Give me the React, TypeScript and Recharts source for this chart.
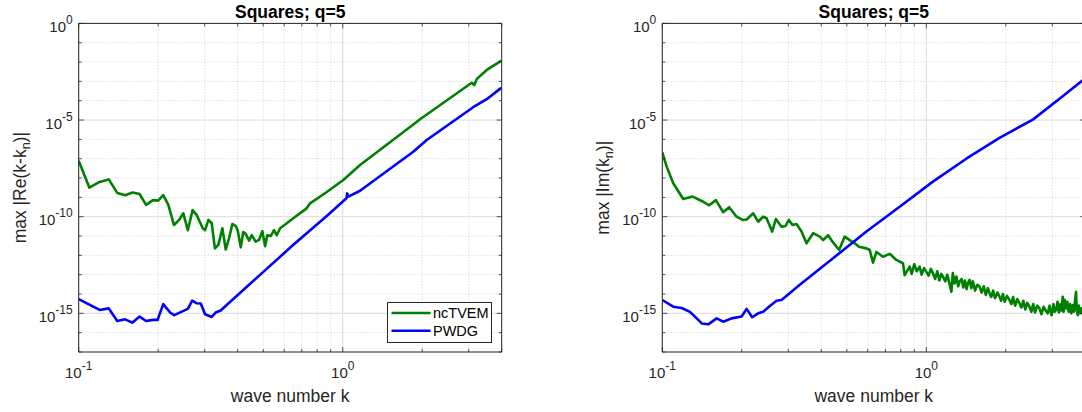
import React from "react";
import { LineChart, Line, XAxis, YAxis, CartesianGrid, ReferenceLine, Legend } from "recharts";

// values: [wave number k, max error]
const reTvem: [number, number][] = [
  [0.1, 7.9e-8], [0.1097, 3.2e-9], [0.12, 6.3e-9], [0.13, 8.5e-9], [0.14, 1.7e-9], [0.15, 1.3e-9],
  [0.16, 1.8e-9], [0.17, 1.5e-9], [0.18, 4.1e-10], [0.191, 7.2e-10], [0.2, 6.8e-10], [0.209, 1.3e-9],
  [0.2185, 4.1e-10], [0.2296, 3.7e-11], [0.24, 6.8e-11], [0.249, 1.5e-10], [0.259, 2.0e-11], [0.27, 2.2e-10],
  [0.28, 1.2e-10], [0.295, 2.5e-11], [0.301, 2.0e-11], [0.31, 6.8e-11], [0.319, 4.6e-11], [0.328, 2.3e-12],
  [0.338, 3.5e-12], [0.35, 2.5e-11], [0.3605, 2.0e-12], [0.371, 7.6e-12], [0.382, 4.2e-11], [0.393, 3.3e-11],
  [0.4, 2.0e-11], [0.411, 2.6e-12], [0.42, 1.6e-11], [0.429, 1.3e-11], [0.442, 5.8e-12], [0.452, 1.1e-11],
  [0.468, 5.1e-12], [0.482, 6.3e-12], [0.496, 1.8e-11], [0.508, 3.0e-12], [0.518, 1.1e-11], [0.534, 1.0e-11],
  [0.549, 2.0e-11], [0.562, 1.1e-11], [0.579, 2.5e-11], [0.614, 4.6e-11], [0.65, 8.3e-11], [0.73, 2.7e-10],
  [0.752, 4.9e-10], [0.87, 1.9e-9], [1.005, 7.9e-9], [1.163, 4.7e-8], [1.84, 5.5e-6], [1.963, 1.1e-5],
  [3.08, 8.5e-4], [3.15, 6.5e-4], [3.22, 1.35e-3], [3.512, 3.9e-3], [3.94, 1.05e-2], [4.0, 1.2e-2],
];

const rePwdg: [number, number][] = [
  [0.1, 5.4e-15], [0.12, 1.5e-15], [0.13, 1.8e-15], [0.14, 4.0e-16], [0.15, 4.9e-16], [0.1595, 3.3e-16],
  [0.17, 6.8e-16], [0.18, 4.0e-16], [0.191, 4.6e-16], [0.199, 4.6e-16], [0.209, 3.0e-15], [0.222, 1.1e-15],
  [0.23, 8.1e-16], [0.259, 1.7e-15], [0.269, 4.5e-15], [0.28, 3.3e-15], [0.29, 3.2e-15], [0.301, 8.9e-16],
  [0.319, 6.5e-16], [0.33, 1.1e-15], [0.345, 1.4e-15], [0.3635, 2.7e-15], [0.42, 1.6e-14], [0.485, 9.5e-14],
  [0.65, 3.5e-12], [0.87, 1.1e-10], [1.033, 8.9e-10], [1.04, 1.6e-9], [1.05, 1.1e-9], [1.163, 2.2e-9],
  [1.85, 2.3e-7], [2.08, 9.3e-7], [3.12, 4.6e-5], [3.51, 1.2e-4], [3.94, 4.1e-4], [4.0, 4.6e-4],
];

const imTvem: [number, number][] = [
  [0.1, 2.1e-7], [0.1039, 3.9e-8], [0.11, 5.4e-9], [0.12, 8.3e-10], [0.1303, 1.1e-9], [0.141, 6.5e-10],
  [0.1506, 3.9e-10], [0.1596, 7.2e-10], [0.1701, 1.7e-10], [0.1792, 3.1e-10], [0.1911, 1.0e-10], [0.2015, 6.8e-11],
  [0.2086, 7.2e-11], [0.221, 1.5e-10], [0.2307, 5.5e-11], [0.241, 1.0e-10], [0.2483, 8.3e-11], [0.2606, 1.7e-11],
  [0.2692, 7.6e-11], [0.2829, 3.0e-11], [0.2929, 3.3e-11], [0.3014, 6.8e-11], [0.3113, 3.7e-11], [0.3223, 4.2e-11],
  [0.3367, 1.7e-11], [0.3517, 4.2e-12], [0.3725, 1.4e-11], [0.395, 9.3e-12], [0.4065, 6.2e-12], [0.4246, 1.1e-11],
  [0.4411, 5.1e-12], [0.4672, 1.9e-12], [0.4909, 9.3e-12], [0.5159, 5.8e-12], [0.5356, 4.2e-12], [0.556, 2.8e-12],
  [0.5932, 2.3e-12], [0.6106, 1.9e-12], [0.6281, 4.2e-13], [0.6471, 1.5e-12], [0.6855, 8.5e-13], [0.7264, 1.2e-12],
  [0.7701, 5.8e-13], [0.8157, 3.9e-13], [0.8278, 9.5e-14], [0.8646, 2.6e-13], [0.88, 1.1e-13], [0.9, 3.5e-13],
  [0.92, 1.5e-13], [0.9432, 2.6e-13], [0.96, 1.0e-13], [0.98, 2.2e-13], [1.0, 1.4e-13], [1.02, 9e-14],
  [1.04, 2.0e-13], [1.059, 1.2e-13], [1.08, 6e-14], [1.1, 1.5e-13], [1.12, 5e-14], [1.14, 1.1e-13],
  [1.156, 7.9e-14], [1.18, 4.5e-14], [1.2, 1.0e-13], [1.22, 4e-14], [1.244, 1.3e-14], [1.26, 1.2e-13],
  [1.28, 3.5e-14], [1.3, 8e-14], [1.32, 2.5e-14], [1.336, 4.4e-14], [1.36, 6e-14], [1.38, 2.2e-14],
  [1.4, 5e-14], [1.42, 1.8e-14], [1.44, 4e-14], [1.458, 5.4e-14], [1.48, 2e-14], [1.5, 4.5e-14],
  [1.53, 1.5e-14], [1.56, 3e-14], [1.591, 2.4e-14], [1.62, 1.2e-14], [1.65, 2.5e-14], [1.68, 9e-15],
  [1.71, 2e-14], [1.735, 1.1e-14], [1.76, 7e-15], [1.79, 1.5e-14], [1.82, 6e-15], [1.86, 1.2e-14],
  [1.893, 7.2e-15], [1.92, 4.5e-15], [1.95, 1e-14], [1.98, 4e-15], [2.02, 8e-15], [2.065, 4.9e-15],
  [2.1, 3e-15], [2.13, 7e-15], [2.17, 2.5e-15], [2.21, 5.5e-15], [2.253, 3.3e-15], [2.29, 2e-15],
  [2.33, 4.5e-15], [2.37, 1.6e-15], [2.41, 3.5e-15], [2.459, 2.2e-15], [2.5, 1.2e-15], [2.54, 3e-15],
  [2.58, 1.1e-15], [2.63, 2.5e-15], [2.682, 1.8e-15], [2.73, 9e-16], [2.78, 2.2e-15], [2.83, 1.4e-15],
  [2.884, 1.0e-15], [2.93, 2.5e-15], [2.98, 8e-16], [3.03, 3e-15], [3.06, 1.2e-15], [3.102, 1.5e-15],
  [3.14, 4e-15], [3.18, 1.1e-15], [3.22, 3e-15], [3.25, 1.4e-15], [3.285, 7.2e-15], [3.31, 1.2e-15],
  [3.34, 5e-15], [3.384, 1.8e-15], [3.42, 4e-15], [3.46, 1.2e-15], [3.5, 3e-15], [3.54, 1e-15],
  [3.585, 2.7e-15], [3.62, 1.2e-15], [3.69, 1.3e-14], [3.71, 1.5e-15], [3.745, 8.1e-16], [3.78, 2.5e-15],
  [3.82, 1e-15], [3.868, 1.8e-15], [3.92, 9e-16], [3.96, 2e-15], [4.0, 1.2e-15],
];

const imPwdg: [number, number][] = [
  [0.1, 4.9e-15], [0.11, 2.2e-15], [0.1184, 1.9e-15], [0.1273, 1.2e-15], [0.1329, 6.8e-16], [0.141, 3.0e-16],
  [0.1493, 2.7e-16], [0.1606, 5.5e-16], [0.1701, 3.7e-16], [0.183, 5.5e-16], [0.1997, 6.8e-16], [0.2086, 1.7e-15],
  [0.219, 6.3e-16], [0.2307, 1.0e-15], [0.241, 1.2e-15], [0.2555, 2.4e-15], [0.2708, 4.5e-15], [0.2829, 4.9e-15],
  [0.3317, 3.0e-14], [0.4434, 7.1e-13], [0.5932, 1.7e-11], [0.7925, 3.3e-10], [1.059, 6.5e-9], [1.417, 1.0e-7],
  [1.893, 1.2e-6], [2.531, 1.05e-5], [3.24, 1.45e-4], [3.868, 1.0e-3], [4.0, 1.4e-3],
];

const kMajor = [0.1, 1];
const kMinor = [0.2, 0.3, 0.4, 0.5, 0.6, 0.7, 0.8, 0.9, 2, 3, 4];
const errMajor = [1e-15, 1e-10, 1e-5, 1];
const errMinor = [1e-17, 1e-16, 1e-14, 1e-13, 1e-12, 1e-11, 1e-9, 1e-8, 1e-7, 1e-6, 1e-4, 1e-3, 1e-2, 1e-1];
const seriesOrder = ["ncTVEM", "PWDG"];

const FONT = "'Liberation Sans', Arial, Helvetica, sans-serif";
const INK = "#262626";
const GREEN = "#008000";
const BLUE = "#0000ff";
const PLOT_W = 423;
const PLOT_H = 328.6;

const toRows = (pts: [number, number][]) => pts.map(([k, v]) => ({ k, v }));
const exponent = (v: number) => String(Math.round(Math.log10(v)));

function KTick({ x, y, payload }: any) {
  const v = payload.value;
  const major = kMajor.includes(v);
  const len = major ? 5 : 3;
  return (
    <g>
      <line x1={x} y1={y} x2={x} y2={y - len} stroke={INK} strokeWidth={0.8} />
      <line x1={x} y1={y - PLOT_H} x2={x} y2={y - PLOT_H + len} stroke={INK} strokeWidth={0.8} />
      {major && (
        <text x={x} y={y + 26} textAnchor="middle" fontFamily={FONT} fontSize={15} fill={INK}>
          10<tspan dy={-8} fontSize={12}>{exponent(v)}</tspan>
        </text>
      )}
    </g>
  );
}

function ErrTick({ x, y, payload }: any) {
  const v = payload.value;
  const major = errMajor.includes(v);
  const len = major ? 5 : 3;
  return (
    <g>
      <line x1={x} y1={y} x2={x + len} y2={y} stroke={INK} strokeWidth={0.8} />
      <line x1={x + PLOT_W} y1={y} x2={x + PLOT_W - len} y2={y} stroke={INK} strokeWidth={0.8} />
      {major && (
        <text x={x - 6} y={y + 8.5} textAnchor="end" fontFamily={FONT} fontSize={15} fill={INK}>
          10<tspan dy={-8} fontSize={12}>{exponent(v)}</tspan>
        </text>
      )}
    </g>
  );
}

function TitleLabel(props: any) {
  const vb = props.viewBox || {};
  return (
    <text x={vb.x + vb.width / 2} y={vb.y - 5} textAnchor="middle" fontFamily={FONT} fontSize={17.5}
      fontWeight="bold" fill="#000">
      Squares; q=5
    </text>
  );
}

function KLabel(props: any) {
  const vb = props.viewBox || {};
  return (
    <text x={vb.x + vb.width / 2} y={vb.y + 50} textAnchor="middle" fontFamily={FONT} fontSize={17.5} fill={INK}>
      wave number k
    </text>
  );
}

function ErrLabel(props: any) {
  const vb = props.viewBox || {};
  const cx = vb.x + vb.width - 53;
  const cy = vb.y + vb.height / 2;
  return (
    <text x={cx} y={cy} transform={`rotate(-90, ${cx}, ${cy})`} textAnchor="middle" fontFamily={FONT}
      fontSize={17.5} fill={INK}>
      {props.head}
      <tspan dy={4} fontSize={12.5}>n</tspan>
      <tspan dy={-4}>)|</tspan>
    </text>
  );
}

function LegendBox({ payload }: any) {
  const items = [...(payload || [])].sort(
    (a: any, b: any) => seriesOrder.indexOf(a.value) - seriesOrder.indexOf(b.value)
  );
  return (
    <svg width={105} height={41} style={{ display: "block" }}>
      <rect x={0.5} y={0.5} width={104} height={40} fill="#fff" stroke={INK} strokeWidth={1} />
      {items.map((p: any, i: number) => (
        <g key={p.value}>
          <line x1={4.5} x2={43.5} y1={11 + i * 17.7} y2={11 + i * 17.7} stroke={p.color} strokeWidth={2.6} />
          <text x={46} y={16 + i * 17.7} fontFamily={FONT} fontSize={14.5} fill="#000">{p.value}</text>
        </g>
      ))}
    </svg>
  );
}

function Panel({ left, width, marginLeft, marginRight, head, tvem, pwdg, legend }: any) {
  return (
    <div style={{ position: "absolute", left, top: 0 }}>
      <LineChart width={width} height={412}
        margin={{ top: 23.4, right: marginRight, bottom: 0, left: marginLeft }}>
        <CartesianGrid verticalValues={kMinor} horizontalValues={errMinor} stroke="#cfcfcf"
          strokeDasharray="1 2" />
        <CartesianGrid verticalValues={kMajor} horizontalValues={errMajor} stroke="#dcdcdc" />
        <XAxis dataKey="k" type="number" scale="log" domain={[0.1, 4]} allowDataOverflow ticks={[...kMajor, ...kMinor]}
          interval={0} tick={<KTick />} tickLine={false} tickSize={0} tickMargin={0} height={60}
          axisLine={{ stroke: INK }} label={<KLabel />} />
        <YAxis type="number" scale="log" domain={[1e-17, 1]} allowDataOverflow ticks={[...errMinor, ...errMajor]}
          interval={0} tick={<ErrTick />} tickLine={false} tickSize={0} tickMargin={0} width={60}
          axisLine={{ stroke: INK }} label={<ErrLabel head={head} />} />
        <Line data={toRows(tvem)} dataKey="v" name="ncTVEM" stroke={GREEN} strokeWidth={2.6} dot={false}
          activeDot={false} isAnimationActive={false} strokeLinejoin="round" />
        <Line data={toRows(pwdg)} dataKey="v" name="PWDG" stroke={BLUE} strokeWidth={2.6} dot={false}
          activeDot={false} isAnimationActive={false} strokeLinejoin="round" />
        <ReferenceLine y={1} stroke={INK} label={<TitleLabel />} />
        <ReferenceLine x={4} stroke={INK} />
        {legend && (
          <Legend content={<LegendBox />} layout="vertical" align="center" verticalAlign="middle"
            wrapperStyle={{ left: 386.7, top: 302.3, width: 105, height: 41 }} />
        )}
      </LineChart>
    </div>
  );
}

export default function App() {
  return (
    <div style={{ position: "absolute", left: 0, top: 0, width: 1082, height: 412, overflow: "hidden",
      background: "#fff" }}>
      <Panel left={0} width={541} marginLeft={18.7} marginRight={39.3} head="max |Re(k-k"
        tvem={reTvem} pwdg={rePwdg} legend />
      <Panel left={541} width={560} marginLeft={61.3} marginRight={15.7} head="max |Im(k"
        tvem={imTvem} pwdg={imPwdg} legend={false} />
    </div>
  );
}
